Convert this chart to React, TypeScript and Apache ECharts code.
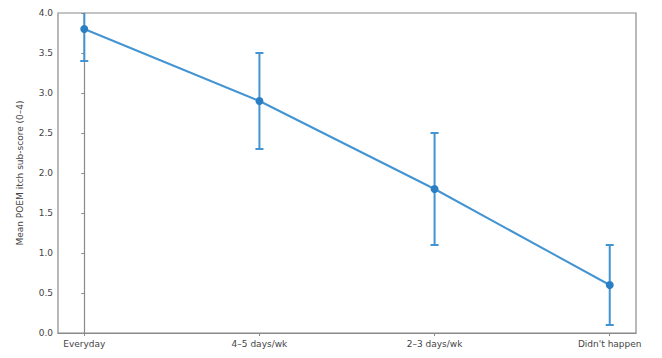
import React, { useEffect, useRef } from "react";
import * as echarts from "echarts";

const categories = ["Everyday", "4–5 days/wk", "2–3 days/wk", "Didn't happen"];
const means = [3.8, 2.9, 1.8, 0.6];
const lower = [3.4, 2.3, 1.1, 0.1];
const upper = [4.2, 3.5, 2.5, 1.1];
const yTicks = [0, 0.5, 1, 1.5, 2, 2.5, 3, 3.5, 4];

const LINE = "#4394d2";
const AXIS = "#8a8a8a";
const TEXT = "#444";

const GRID = { left: 58, right: 26, top: 13, bottom: 25 };
const W = 662;
const H = 358;

export default function App() {
  const ref = useRef<HTMLDivElement>(null);

  useEffect(() => {
    if (!ref.current) return;
    const chart = echarts.init(ref.current, undefined, { renderer: "svg" });
    const positions = categories.map((_, i) => i);

    chart.setOption({
      animation: false,
      grid: { ...GRID, containLabel: false },
      xAxis: {
        type: "value",
        min: -0.15,
        max: 3.15,
        axisLine: { show: true, onZero: false, lineStyle: { color: AXIS, width: 1.2 } },
        axisTick: { show: true, customValues: positions, length: 3, lineStyle: { color: AXIS } },
        axisLabel: {
          customValues: positions,
          formatter: (v: number) => categories[Math.round(v)] ?? "",
          color: TEXT,
          fontFamily: "DejaVu Sans",
          fontSize: 9,
          margin: 6,
        },
        splitLine: { show: false },
      },
      yAxis: {
        type: "value",
        min: 0,
        max: 4,
        name: "Mean POEM itch sub-score (0–4)",
        nameLocation: "middle",
        nameGap: 34,
        nameTextStyle: { color: TEXT, fontFamily: "DejaVu Sans", fontSize: 9 },
        axisLine: { show: true, lineStyle: { color: AXIS, width: 1.2 } },
        axisTick: { show: true, customValues: yTicks, length: 3, lineStyle: { color: AXIS } },
        axisLabel: {
          customValues: yTicks,
          formatter: (v: number) => v.toFixed(1),
          color: TEXT,
          fontFamily: "DejaVu Sans",
          fontSize: 9,
          margin: 5,
        },
        splitLine: { show: false },
      },
      graphic: [
        {
          type: "rect",
          shape: {
            x: GRID.left,
            y: GRID.top,
            width: W - GRID.left - GRID.right,
            height: H - GRID.top - GRID.bottom,
          },
          style: { fill: "none", stroke: AXIS, lineWidth: 1.2 },
          silent: true,
          z: 0,
        },
      ],
      series: [
        {
          type: "custom",
          clip: true,
          data: positions.map((p, i) => [p, lower[i], upper[i]]),
          renderItem: (params: any, api: any) => {
            const x = api.value(0);
            const lo = api.coord([x, api.value(1)]);
            const hi = api.coord([x, api.value(2)]);
            const cap = 4;
            const style = { stroke: LINE, lineWidth: 2 };
            return {
              type: "group",
              children: [
                { type: "line", shape: { x1: lo[0], y1: lo[1], x2: hi[0], y2: hi[1] }, style },
                { type: "line", shape: { x1: lo[0] - cap, y1: lo[1], x2: lo[0] + cap, y2: lo[1] }, style },
                { type: "line", shape: { x1: hi[0] - cap, y1: hi[1], x2: hi[0] + cap, y2: hi[1] }, style },
              ],
            };
          },
          z: 2,
        },
        {
          type: "line",
          data: positions.map((p, i) => [p, means[i]]),
          symbol: "circle",
          symbolSize: 8,
          lineStyle: { color: LINE, width: 2 },
          itemStyle: { color: "#2a7fc4" },
          z: 3,
        },
      ],
    });

    return () => chart.dispose();
  }, []);

  return (
    <div
      ref={ref}
      style={{ width: W, height: H, position: "absolute", left: 0, top: 0, background: "#fff" }}
    />
  );
}
